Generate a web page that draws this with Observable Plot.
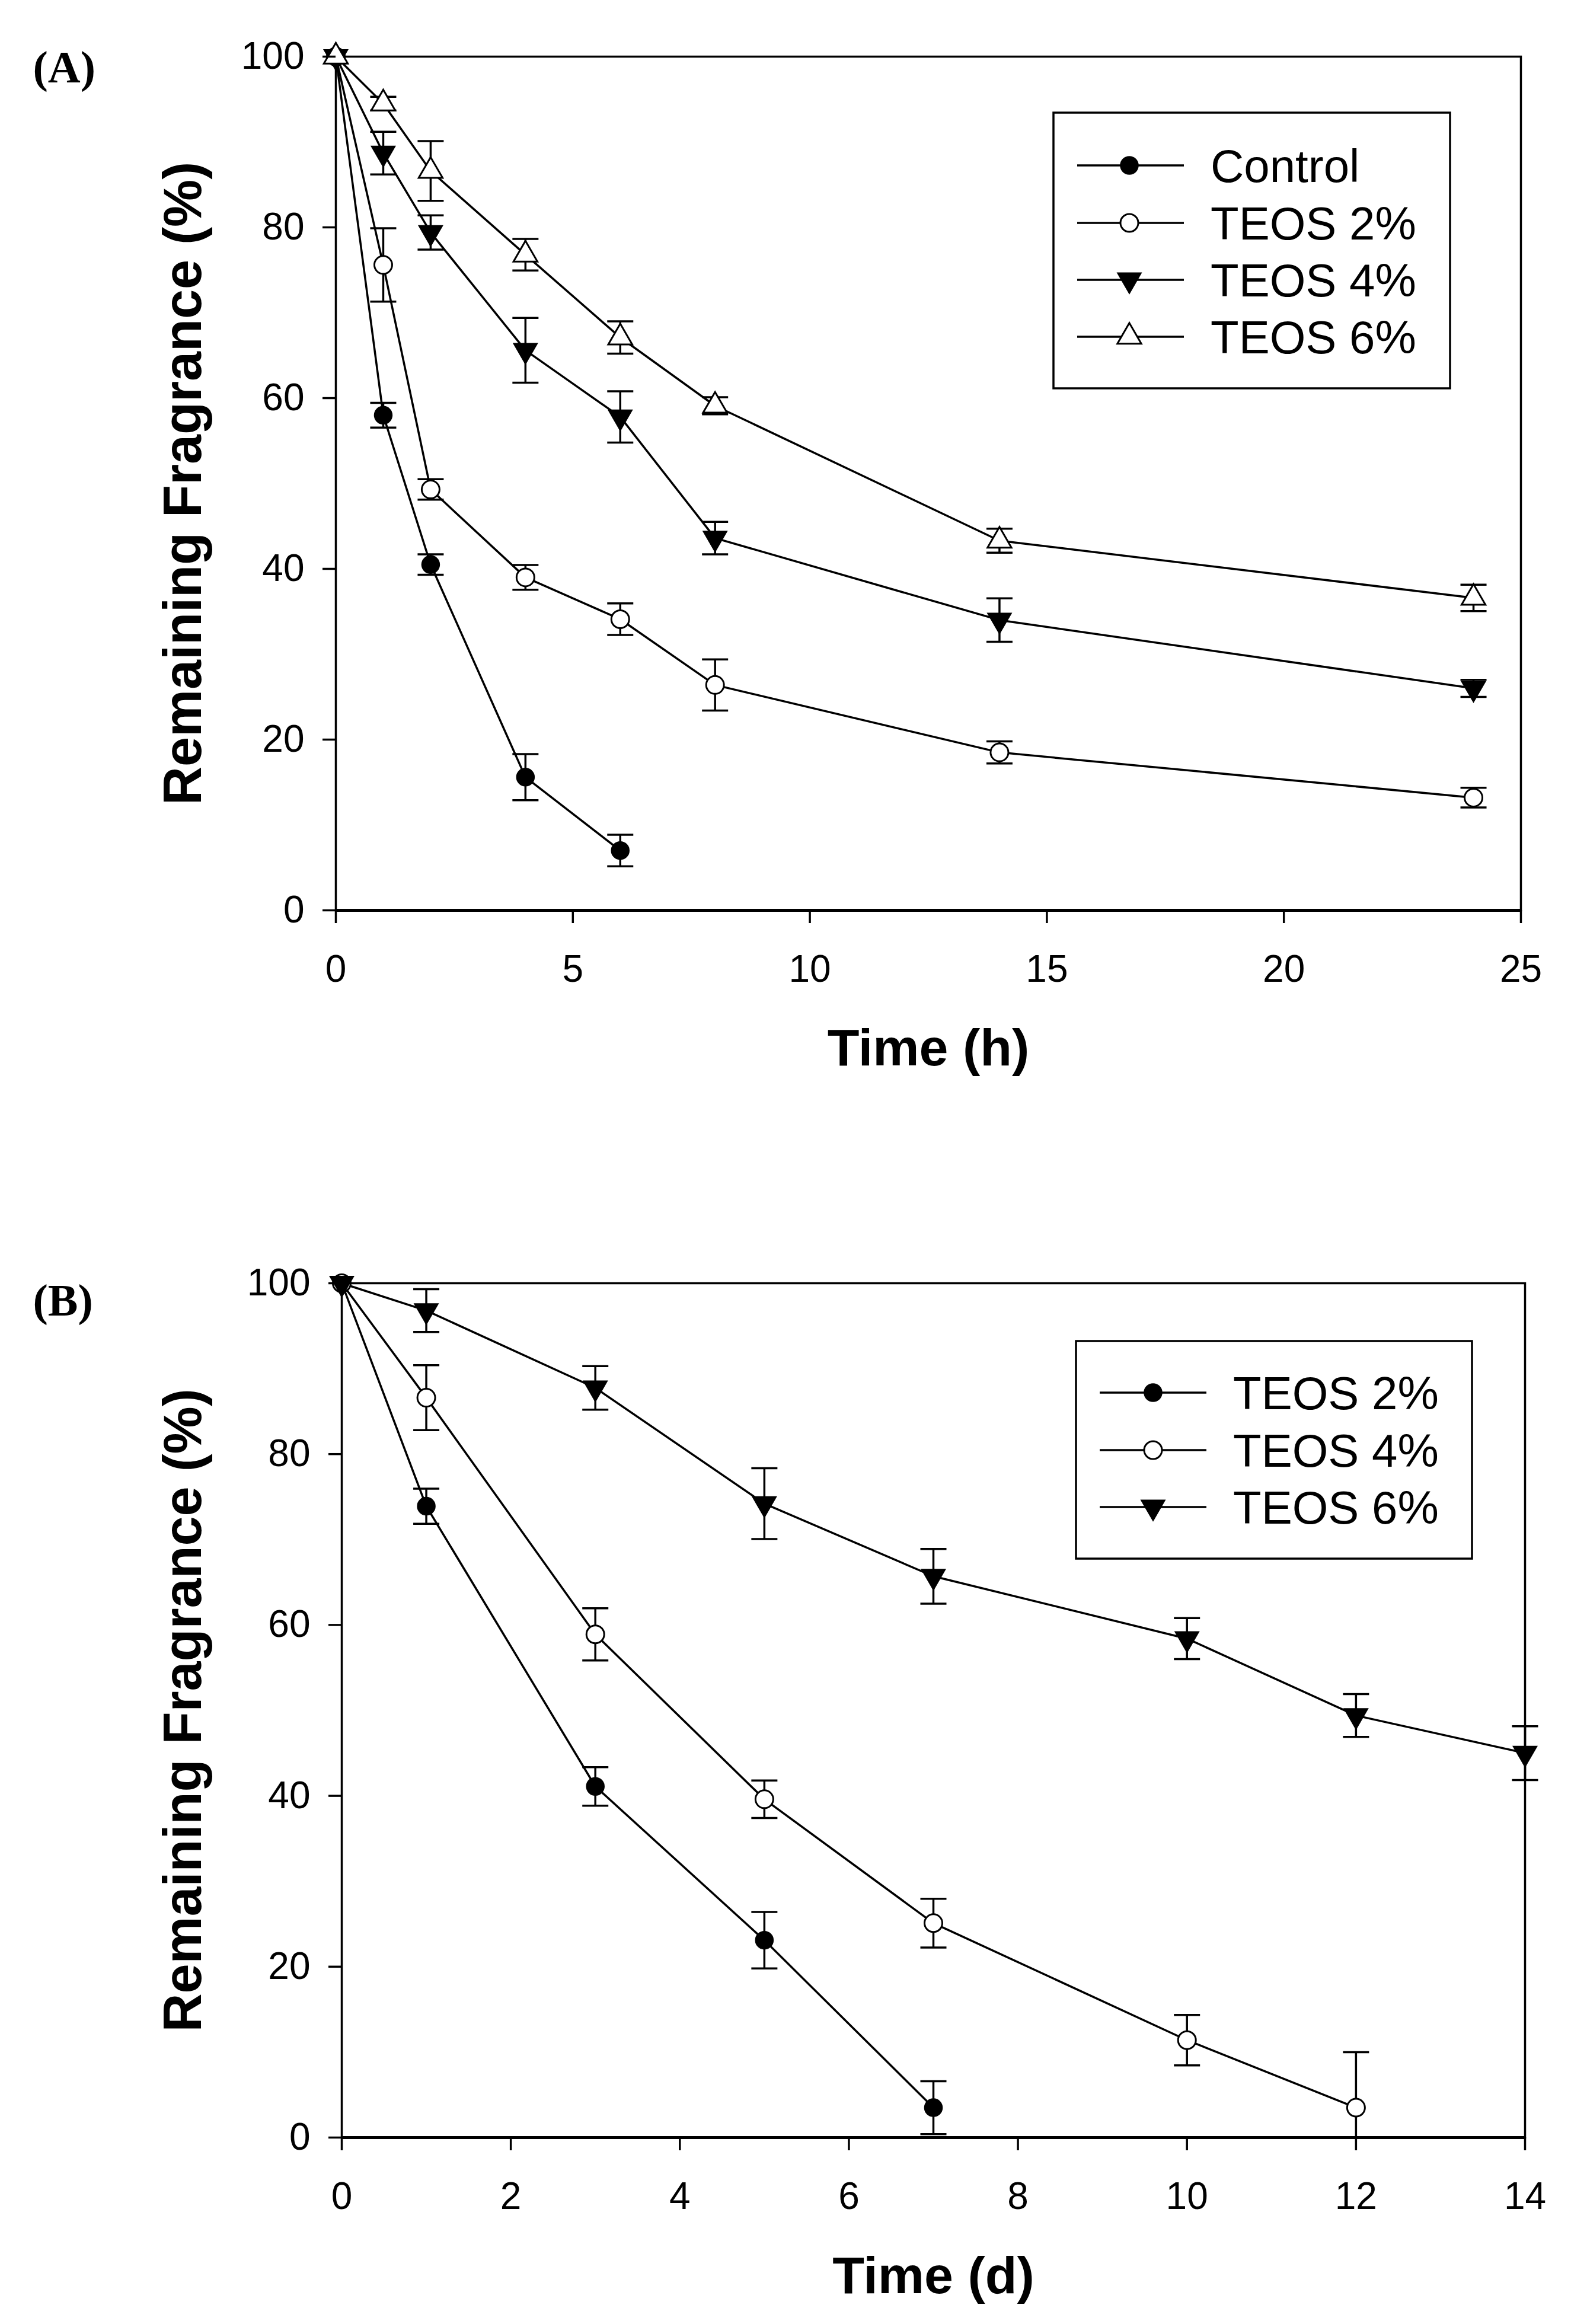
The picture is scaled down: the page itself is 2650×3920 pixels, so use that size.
<!DOCTYPE html>
<html>
<head>
<meta charset="utf-8">
<script src="https://cdn.jsdelivr.net/npm/d3@7"></script>
<script src="https://cdn.jsdelivr.net/npm/@observablehq/plot@0.6"></script>
<style>
  html, body { margin: 0; padding: 0; background: #fff; }
  #chart { width: 2650px; }
  #chart svg { display: block; }
</style>
</head>
<body>
<div id="chart"></div>
<script>
// ---------------- Panel A data (time in hours) ----------------
const timeA = [0, 1, 2, 4, 6, 8, 14, 24];
const xTicksA = [0, 5, 10, 15, 20, 25];
const yTicks = [0, 20, 40, 60, 80, 100];
const controlA = [100, 58.0, 40.5, 15.6, 7.0];
const controlAErr = [0, 1.45, 1.2, 2.7, 1.85];
const teos2A = [100, 75.6, 49.3, 39.0, 34.1, 26.4, 18.5, 13.2];
const teos2AErr = [0, 4.3, 1.2, 1.45, 1.85, 3.0, 1.3, 1.15];
const teos4A = [100, 88.7, 79.4, 65.6, 57.8, 43.6, 34.0, 26.0];
const teos4AErr = [0, 2.5, 2.0, 3.8, 3.0, 1.9, 2.55, 1.0];
const teos6A = [100, 94.5, 86.6, 76.8, 67.1, 59.1, 43.3, 36.6];
const teos6AErr = [0, 0.8, 3.5, 1.85, 1.9, 1.0, 1.4, 1.55];

// ---------------- Panel B data (time in days) ----------------
const timeB = [0, 1, 3, 5, 7, 10, 12, 14];
const xTicksB = [0, 2, 4, 6, 8, 10, 12, 14];
const teos2B = [100, 73.9, 41.1, 23.1, 3.5];
const teos2BErr = [0, 2.05, 2.25, 3.3, 3.1];
const teos4B = [100, 86.6, 58.9, 39.6, 25.1, 11.4, 3.5];
const teos4BErr = [0, 3.8, 3.05, 2.2, 2.85, 2.95, 6.5];
const teos6B = [100, 96.8, 87.75, 74.2, 65.7, 58.4, 49.4, 45.0];
const teos6BErr = [0, 2.5, 2.55, 4.15, 3.2, 2.4, 2.5, 3.15];

// ---------------- symbols ----------------
const sqrt3 = Math.sqrt(3);
const triDown = {
  draw(ctx, size) {
    const y = -Math.sqrt(size / (sqrt3 * 3));
    ctx.moveTo(0, -y * 2);
    ctx.lineTo(-sqrt3 * y, y);
    ctx.lineTo(sqrt3 * y, y);
    ctx.closePath();
  }
};
const triUp = d3.symbolTriangle;
const capSym = {
  draw(ctx, size) {
    const w = Math.sqrt(size / Math.PI);
    ctx.moveTo(-w, 0);
    ctx.lineTo(w, 0);
  }
};

const SANS = "'Liberation Sans', Arial, sans-serif";
const SERIF = "'Liberation Serif', 'Times New Roman', serif";

function buildRows(name, times, values, errs) {
  return values.map((v, i) => ({series: name, t: times[i], v, e: errs[i],
    hi: Math.min(100, v + errs[i]), lo: Math.max(0, v - errs[i]), loOk: v - errs[i] >= 0}));
}

function panel(cfg) {
  const {defs, times, xTicks, xDomain, margin, xLabel, tag, tagDx, tagDy, yLabelDx, legend} = cfg;
  const marks = [Plot.frame({stroke: "black", strokeWidth: 3.5})];
  const rowsBy = defs.map(d => buildRows(d.name, times, d.values, d.errs));
  rowsBy.forEach(rows => {
    marks.push(Plot.line(rows, {x: "t", y: "v", stroke: "black", strokeWidth: 3.5}));
  });
  rowsBy.forEach(rows => {
    const withErr = rows.filter(r => r.e > 0);
    marks.push(Plot.ruleX(withErr, {x: "t", y1: "lo", y2: "hi", stroke: "black", strokeWidth: 3.5}));
    marks.push(Plot.dot(withErr, {x: "t", y: "hi", symbol: capSym, r: 22, stroke: "black", strokeWidth: 3.5, fill: "none"}));
    marks.push(Plot.dot(withErr.filter(r => r.loOk), {x: "t", y: "lo", symbol: capSym, r: 22, stroke: "black", strokeWidth: 3.5, fill: "none"}));
  });
  rowsBy.forEach((rows, k) => {
    const d = defs[k];
    marks.push(Plot.dot(rows, {x: "t", y: "v", symbol: d.symbol, r: 15, fill: d.fill, stroke: "black", strokeWidth: d.fill === "white" ? 3 : 1.5}));
  });
  marks.push(
    Plot.axisX(xTicks, {tickSize: 22, tickPadding: 53, fontSize: 64, fontFamily: SANS, strokeWidth: 3.5, label: null, tickFormat: d => String(d)}),
    Plot.axisY(yTicks, {tickSize: 22, tickPadding: 31, fontSize: 64, fontFamily: SANS, strokeWidth: 3.5, label: null, tickFormat: d => String(d)}),
    Plot.ruleY([0], {stroke: "black", strokeWidth: 5}),
    Plot.text([xLabel], {text: d => d, frameAnchor: "bottom", dy: cfg.xLabelDy, lineAnchor: "bottom", textAnchor: "middle", fontSize: 88, fontWeight: "bold", fontFamily: SANS, fill: "black"}),
    Plot.text(["Remaining Fragrance (%)"], {text: d => d, frameAnchor: "left", rotate: -90, dx: yLabelDx, lineAnchor: "bottom", textAnchor: "middle", fontSize: 90, fontWeight: "bold", fontFamily: SANS, fill: "black"}),
    Plot.text([tag], {text: d => d, frameAnchor: "top-left", dx: tagDx, dy: tagDy, lineAnchor: "bottom", textAnchor: "start", fontSize: 76, fontWeight: "bold", fontFamily: SERIF, fill: "black"})
  );
  const svg = Plot.plot({
    width: 2650,
    height: 1960,
    marginLeft: margin.left,
    marginRight: margin.right,
    marginTop: margin.top,
    marginBottom: margin.bottom,
    style: {background: "white", color: "black", fontFamily: SANS},
    x: {domain: xDomain},
    y: {domain: [0, 100]},
    marks
  });
  // legend (non-data decoration)
  const g = d3.select(svg).append("g").attr("text-anchor", "start");
  g.append("rect").attr("x", legend.x0).attr("y", legend.y0)
    .attr("width", legend.x1 - legend.x0).attr("height", legend.y1 - legend.y0)
    .attr("fill", "white").attr("stroke", "black").attr("stroke-width", 3.5);
  defs.forEach((d, i) => {
    const y = legend.ys[i];
    g.append("line").attr("x1", legend.lx0).attr("x2", legend.lx1).attr("y1", y).attr("y2", y)
      .attr("stroke", "black").attr("stroke-width", 3.5);
    g.append("path").attr("transform", `translate(${legend.mx},${y})`)
      .attr("d", d3.symbol(d.symbol, Math.PI * 15 * 15)())
      .attr("fill", d.fill).attr("stroke", "black").attr("stroke-width", d.fill === "white" ? 3 : 1.5);
    g.append("text").attr("x", legend.tx).attr("y", y + 28).attr("text-anchor", "start")
      .attr("font-family", SANS).attr("font-size", 78).attr("font-weight", "normal")
      .attr("fill", "black").text(d.name);
  });
  return svg;
}

const defsA = [
  {name: "Control", values: controlA, errs: controlAErr, symbol: d3.symbolCircle, fill: "black"},
  {name: "TEOS 2%", values: teos2A, errs: teos2AErr, symbol: d3.symbolCircle, fill: "white"},
  {name: "TEOS 4%", values: teos4A, errs: teos4AErr, symbol: triDown, fill: "black"},
  {name: "TEOS 6%", values: teos6A, errs: teos6AErr, symbol: triUp, fill: "white"}
];
const defsB = [
  {name: "TEOS 2%", values: teos2B, errs: teos2BErr, symbol: d3.symbolCircle, fill: "black"},
  {name: "TEOS 4%", values: teos4B, errs: teos4BErr, symbol: d3.symbolCircle, fill: "white"},
  {name: "TEOS 6%", values: teos6B, errs: teos6BErr, symbol: triDown, fill: "black"}
];

const chart = document.getElementById("chart");
chart.appendChild(panel({
  defs: defsA, times: timeA, xTicks: xTicksA, xDomain: [0, 25],
  margin: {left: 566, right: 85, top: 95, bottom: 425},
  xLabel: "Time (h)", xLabelDy: 261, yLabelDx: -228,
  tag: "(A)", tagDx: -511, tagDy: 43,
  legend: {x0: 1777, x1: 2446, y0: 190, y1: 655, ys: [279, 376, 472, 568], lx0: 1817, lx1: 1997, mx: 1905, tx: 2042}
}));
chart.appendChild(panel({
  defs: defsB, times: timeB, xTicks: xTicksB, xDomain: [0, 14],
  margin: {left: 576, right: 78, top: 204, bottom: 315},
  xLabel: "Time (d)", xLabelDy: 262, yLabelDx: -238,
  tag: "(B)", tagDx: -521, tagDy: 54,
  legend: {x0: 1815, x1: 2483, y0: 302, y1: 669, ys: [389, 486, 582], lx0: 1855, lx1: 2035, mx: 1945, tx: 2080}
}));
</script>
</body>
</html>
